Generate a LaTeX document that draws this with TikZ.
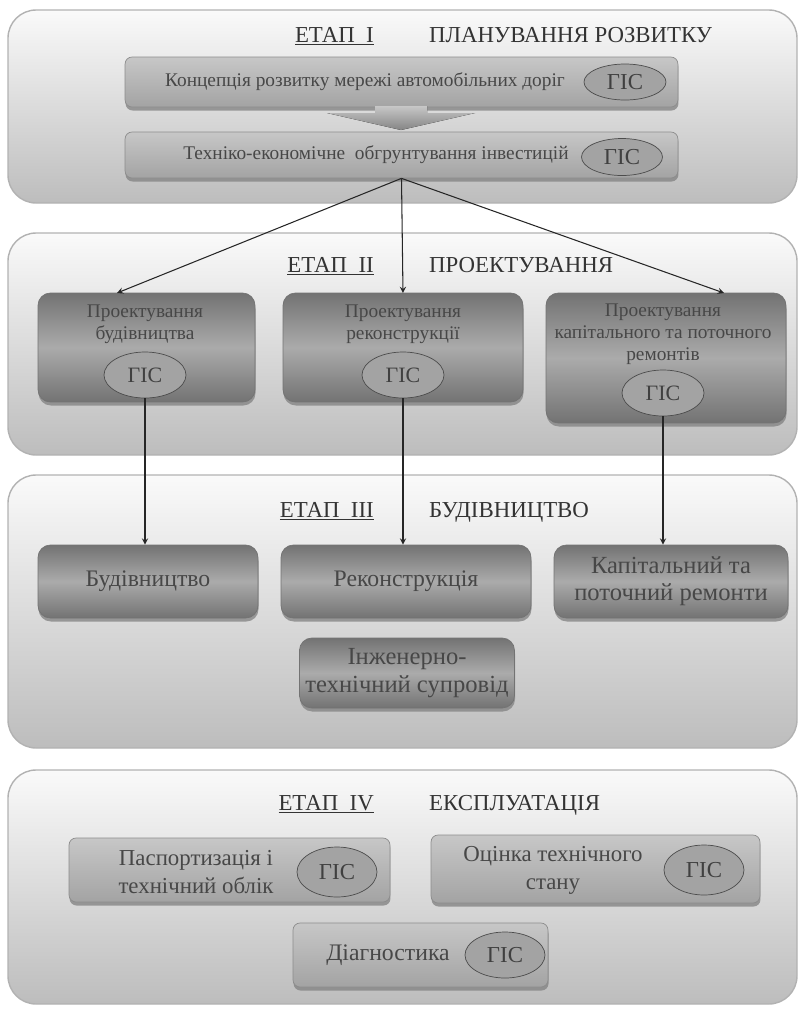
\documentclass[tikz,border=0pt]{standalone}
\usepackage{fontspec}
\setmainfont{Liberation Serif}
\usetikzlibrary{shadows,shapes.geometric}

\begin{document}
\begin{tikzpicture}[x=0.02cm,y=-0.02cm,
  panel/.style={draw=black!30, line width=0.8pt, rounded corners=16pt, top color=black!2, bottom color=black!26},
  lightbox/.style={draw=black!45, rounded corners=4pt, top color=black!22, bottom color=black!36,
    drop shadow={shadow xshift=0.3pt, shadow yshift=-2pt, opacity=.75}},
  darkbox/.style={draw=black!55, rounded corners=7pt, top color=black!55, bottom color=black!55, middle color=black!33,
    drop shadow={shadow xshift=0.3pt, shadow yshift=-2pt, opacity=.75}},
  gis/.style={ellipse, draw=black!70, fill=black!36, inner sep=0pt, text=black!75},
  txt/.style={align=center, text=black!72},
  ttl/.style={text=black!80, font=\fontsize{13}{15}\selectfont},
  conn/.style={->, >=stealth, draw=black!85, line width=0.6pt}]
\useasboundingbox (0,0) rectangle (800,1009);

% panels
\draw[panel] (8,10) rectangle (797,203);
\draw[panel] (8,233) rectangle (797,455);
\draw[panel] (8,475) rectangle (797,748);
\draw[panel] (8,770) rectangle (797,1004);

% stage I
\node[ttl, anchor=base east] (e1) at (380,42) {\underline{ЕТАП\ \ I}};
\node[ttl, anchor=base west] (n1) at (423,42) {ПЛАНУВАННЯ РОЗВИТКУ};
\node[lightbox, minimum width=11.06cm, minimum height=1cm] (conc) at (401.5,82) {};
\node[txt, font=\fontsize{11}{13}\selectfont] at (365,82) {Концепція розвитку мережі автомобільних доріг};
\node[gis, minimum width=1.64cm, minimum height=0.72cm, font=\fontsize{13}{15}\selectfont] (g0) at (625,82) {ГІС};
\node[lightbox, minimum width=11.06cm, minimum height=0.92cm] (teo) at (401.5,155) {};
\fill[top color=black!22, bottom color=black!48] (375,106) -- (427,106) -- (427,113) -- (475,113) -- (401,130) -- (327,113) -- (375,113) -- cycle;
\node[txt, font=\fontsize{11}{13}\selectfont] at (376,155) {Техніко-економічне\ \ обгрунтування інвестицій};
\node[gis, minimum width=1.62cm, minimum height=0.74cm, font=\fontsize{13}{15}\selectfont] (g00) at (622,157) {ГІС};

% stage II
\node[ttl, anchor=base east] (e2) at (380,272) {\underline{ЕТАП\ \ II}};
\node[ttl, anchor=base west] (n2) at (423,272) {ПРОЕКТУВАННЯ};
\node[darkbox, minimum width=4.34cm, minimum height=2.18cm] (pb) at (146.5,347.5) {};
\node[darkbox, minimum width=4.8cm, minimum height=2.18cm] (pr) at (403,347.5) {};
\node[darkbox, minimum width=4.8cm, minimum height=2.6cm] (pk) at (666,358) {};
\node[txt, font=\fontsize{11}{12.5}\selectfont] at (145,324) {Проектування\\будівництва};
\node[txt, font=\fontsize{11}{12.5}\selectfont] at (403,324) {Проектування\\реконструкції};
\node[txt, font=\fontsize{11}{12.5}\selectfont] at (663,334) {Проектування\\капітального та поточного\\ремонтів};
\node[gis, minimum width=1.64cm, minimum height=0.92cm, font=\fontsize{12.5}{14}\selectfont] (g1) at (145,375) {ГІС};
\node[gis, minimum width=1.64cm, minimum height=0.92cm, font=\fontsize{12.5}{14}\selectfont] (g2) at (403,375) {ГІС};
\node[gis, minimum width=1.64cm, minimum height=0.92cm, font=\fontsize{12.5}{14}\selectfont] (g3) at (663,393) {ГІС};
\coordinate (a1) at (117,293);
\coordinate (a2) at (403,293);
\coordinate (a3) at (724,293);
\draw[conn] (teo.south) -- (a1);
\draw[conn] (teo.south) -- (a2);
\draw[conn] (teo.south) -- (a3);

% stage III
\node[ttl, anchor=base east] (e3) at (380,517) {\underline{ЕТАП\ \ III}};
\node[ttl, anchor=base west] (n3) at (423,517) {БУДІВНИЦТВО};
\node[darkbox, minimum width=4.4cm, minimum height=1.46cm, txt, font=\fontsize{13.5}{15}\selectfont] (bud) at (148,581.5) {Будівництво};
\node[darkbox, minimum width=5cm, minimum height=1.46cm, txt, font=\fontsize{13.5}{15}\selectfont] (rek) at (406,581.5) {Реконструкція};
\node[darkbox, minimum width=4.68cm, minimum height=1.46cm, txt, font=\fontsize{14}{15.5}\selectfont] (kap) at (671,581.5) {Капітальний та\\поточний ремонти};
\node[darkbox, minimum width=4.24cm, minimum height=1.4cm, txt, font=\fontsize{14}{15.5}\selectfont] (inz) at (407,673) {Інженерно-\\технічний супровід};
\draw[conn] (g1.south) -- (g1.south |- bud.north);
\draw[conn] (g2.south) -- (g2.south |- rek.north);
\draw[conn] (g3.south) -- (g3.south |- kap.north);

% stage IV
\node[ttl, anchor=base east] (e4) at (380,810) {\underline{ЕТАП\ \ IV}};
\node[ttl, anchor=base west] (n4) at (423,810) {ЕКСПЛУАТАЦІЯ};
\node[lightbox, minimum width=6.42cm, minimum height=1.28cm] (pas) at (229.5,870) {};
\node[lightbox, minimum width=6.58cm, minimum height=1.36cm] (ots) at (595.5,869) {};
\node[lightbox, minimum width=5.1cm, minimum height=1.28cm] (dia) at (420.5,955) {};
\node[txt, font=\fontsize{13}{16}\selectfont] at (196,872) {Паспортизація і\\технічний облік};
\node[txt, font=\fontsize{13}{16}\selectfont] at (553,870) {Оцінка технічного\\стану};
\node[txt, font=\fontsize{13.5}{16}\selectfont] at (388,955) {Діагностика};
\node[gis, minimum width=1.6cm, minimum height=1cm, font=\fontsize{13}{15}\selectfont] (g4) at (337,872) {ГІС};
\node[gis, minimum width=1.6cm, minimum height=1cm, font=\fontsize{13}{15}\selectfont] (g5) at (704,870) {ГІС};
\node[gis, minimum width=1.6cm, minimum height=0.92cm, font=\fontsize{13}{15}\selectfont] (g6) at (505,955) {ГІС};
\end{tikzpicture}
\end{document}
